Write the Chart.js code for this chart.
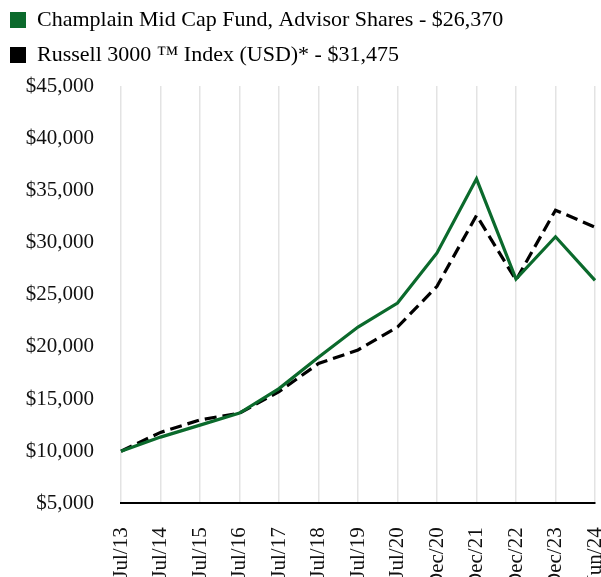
<!DOCTYPE html>
<html>
<head>
<meta charset="utf-8">
<script src="https://cdn.jsdelivr.net/npm/chart.js@4.4.1/dist/chart.umd.min.js"></script>
<style>
  html, body { margin: 0; padding: 0; background: #fff; overflow: hidden; }
  #wrap { width: 601px; height: 612px; position: relative; }
</style>
</head>
<body>
<div id="wrap"><canvas id="growthChart"></canvas></div>
<script>
// --- DATA ---
const periods = ["Jul/13", "Jul/14", "Jul/15", "Jul/16", "Jul/17", "Jul/18", "Jul/19",
                 "Jul/20", "Dec/20", "Dec/21", "Dec/22", "Dec/23", "Jun/24"];
const fundValues  = [10000, 11350, 12500, 13650, 16000, 19000, 21900, 24200, 29000, 36100, 26500, 30550, 26370];
const indexValues = [10000, 11800, 13000, 13650, 15700, 18400, 19700, 21900, 25800, 32600, 26400, 33100, 31475];
const fundLabel  = "Champlain Mid Cap Fund, Advisor Shares - $26,370";
const indexLabel = "Russell 3000 \u2122 Index (USD)* - $31,475";

const serif = "'Liberation Serif', 'Times New Roman', serif";
const green = '#0b6a2c';

// push the plot area down a little below the legend
const legendGap = {
    id: 'legendGap',
    beforeInit(chart) {
        const fit = chart.legend.fit;
        chart.legend.fit = function () {
            fit.call(this);
            this.height += 10;
        };
    }
};

const ctx = document.getElementById('growthChart').getContext('2d');
const chart = new Chart(ctx, {
    type: 'line',
    data: {
        labels: periods,
        datasets: [
            { label: fundLabel, data: fundValues, borderColor: green, backgroundColor: green,
              borderWidth: 3.2, pointRadius: 0, tension: 0 },
            { label: indexLabel, data: indexValues, borderColor: '#000', backgroundColor: '#000',
              borderWidth: 3.2, borderDash: [12, 6], pointRadius: 0, tension: 0 }
        ]
    },
    plugins: [legendGap],
    options: {
        responsive: true,
        maintainAspectRatio: false,
        animation: false,
        layout: { padding: { top: -4, left: -3, right: 6, bottom: 0 } },
        plugins: {
            tooltip: { enabled: false },
            legend: {
                position: 'top',
                align: 'start',
                labels: {
                    color: '#111',
                    font: { family: serif, size: 22 },
                    boxWidth: 16,
                    boxHeight: 16,
                    padding: 13,
                    generateLabels: (c) => c.data.datasets.map((ds, i) => ({
                        text: ds.label,
                        fillStyle: ds.borderColor,
                        strokeStyle: ds.borderColor,
                        lineWidth: 0,
                        datasetIndex: i
                    }))
                }
            }
        },
        scales: {
            x: {
                offset: false,
                grid: { display: true, color: '#e3e3e3', lineWidth: 1.5, drawTicks: false },
                border: { display: true, color: '#000', width: 2 },
                ticks: {
                    color: '#111',
                    font: { family: serif, size: 21 },
                    maxRotation: 90, minRotation: 90,
                    autoSkip: false,
                    padding: 24
                },
                afterFit: (scale) => { scale.paddingRight = 0; scale.paddingLeft = 0; }
            },
            y: {
                min: 5000, max: 45000,
                grid: { display: false },
                border: { display: false },
                ticks: {
                    stepSize: 5000,
                    color: '#111',
                    font: { family: serif, size: 21 },
                    padding: 19,
                    callback: (v) => '$' + v.toLocaleString('en-US')
                },
                afterFit: (scale) => { scale.width = 124; }
            }
        }
    }
});
</script>
</body>
</html>
